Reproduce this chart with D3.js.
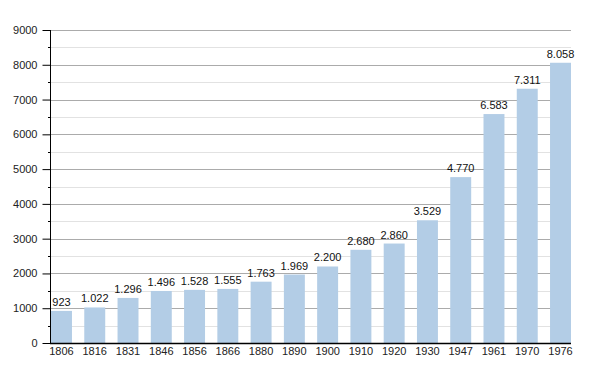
<!DOCTYPE html>
<html>
<head>
<meta charset="utf-8">
<script src="https://cdn.jsdelivr.net/npm/d3@7"></script>
<style>
  body { margin: 0; background: #fff; }
  svg { font-family: "Liberation Sans", Arial, sans-serif; }
</style>
</head>
<body>
<svg width="600" height="373"></svg>
<script>
// years and population
var years = ["1806", "1816", "1831", "1846", "1856", "1866", "1880", "1890",
             "1900", "1910", "1920", "1930", "1947", "1961", "1970", "1976"];
var values = [923, 1022, 1296, 1496, 1528, 1555, 1763, 1969,
              2200, 2680, 2860, 3529, 4770, 6583, 7311, 8058];
var majorTicks = [0, 1000, 2000, 3000, 4000, 5000, 6000, 7000, 8000, 9000];
var minorTicks = [500, 1500, 2500, 3500, 4500, 5500, 6500, 7500, 8500];

var plotLeft = 50, plotRight = 571, plotTop = 30, plotBottom = 343;

var svg = d3.select("svg");

var x = d3.scaleBand()
    .domain(years)
    .range([plotLeft + 1, plotRight])
    .paddingInner(0.37)
    .paddingOuter(0);

var y = d3.scaleLinear()
    .domain([0, 9000])
    .range([plotBottom, plotTop]);

function py(d){ return Math.round(y(d)) + 0.5; }

// grid
svg.selectAll(".minor").data(minorTicks).enter().append("line")
    .attr("x1", plotLeft).attr("x2", plotRight)
    .attr("y1", py).attr("y2", py)
    .attr("stroke", "#e2e2e2");

svg.selectAll(".major").data(majorTicks.slice(1)).enter().append("line")
    .attr("x1", plotLeft).attr("x2", plotRight)
    .attr("y1", py).attr("y2", py)
    .attr("stroke", "#ababab");

// bars
svg.selectAll("rect").data(values).enter().append("rect")
    .attr("x", function(d, i){ return x(years[i]); })
    .attr("y", function(d){ return y(d); })
    .attr("width", x.bandwidth())
    .attr("height", function(d){ return plotBottom - y(d); })
    .attr("fill", "#b3cde6");

// value labels
var fmt = function(d){ return d3.format(",")(d).replace(/,/g, "."); };
svg.selectAll(".val").data(values).enter().append("text")
    .attr("x", function(d, i){ return x(years[i]) + x.bandwidth() / 2; })
    .attr("y", function(d){ return y(d) - 5; })
    .attr("text-anchor", "middle")
    .attr("font-size", 11)
    .attr("fill", "#111")
    .text(fmt);

// y axis
var yAxis = d3.axisLeft(y).tickValues(majorTicks).tickSize(8).tickFormat(d3.format("d"));
var ga = svg.append("g").attr("transform", "translate(" + (plotLeft + 0.5) + ",0)").call(yAxis);
ga.select(".domain").remove();
ga.selectAll("text").attr("font-size", 11).attr("fill", "#222")
    .attr("font-family", "Liberation Sans, Arial, sans-serif").attr("x", -13);
ga.selectAll("line").attr("stroke", "#000");
svg.selectAll(".mtick").data(minorTicks).enter().append("line")
    .attr("x1", plotLeft - 2).attr("x2", plotLeft)
    .attr("y1", py).attr("y2", py)
    .attr("stroke", "#000");
svg.append("line")
    .attr("x1", plotLeft + 0.5).attr("x2", plotLeft + 0.5)
    .attr("y1", plotTop).attr("y2", plotBottom + 1)
    .attr("stroke", "#000");

// x axis
svg.append("line")
    .attr("x1", plotLeft).attr("x2", plotRight)
    .attr("y1", plotBottom + 0.5).attr("y2", plotBottom + 0.5)
    .attr("stroke", "#000").attr("stroke-width", 1.5);

svg.selectAll(".year").data(years).enter().append("text")
    .attr("x", function(d){ return x(d) + x.bandwidth() / 2; })
    .attr("y", 355)
    .attr("text-anchor", "middle")
    .attr("font-size", 11)
    .attr("fill", "#222")
    .text(function(d){ return d; });
</script>
</body>
</html>
